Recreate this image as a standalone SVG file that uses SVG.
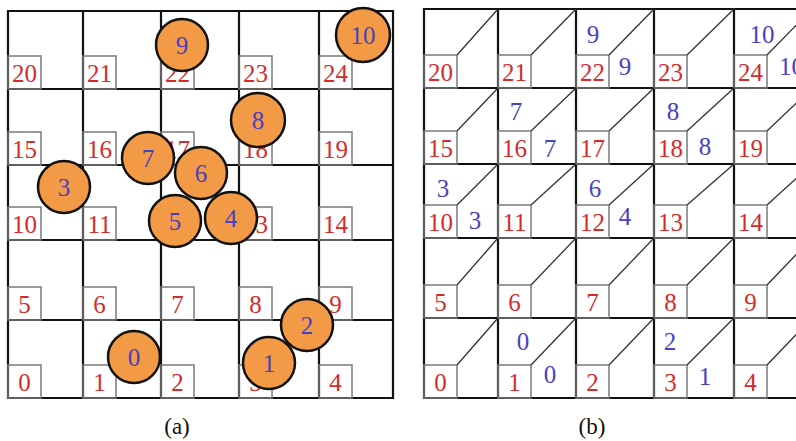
<svg xmlns="http://www.w3.org/2000/svg" width="796" height="441" viewBox="0 0 796 441">
<style>
.grid{fill:none;stroke:#111;stroke-width:2.2}
.box{fill:none;stroke:#7a7a7a;stroke-width:1.5}
.diag{stroke:#333;stroke-width:1.3}
.red{font-family:"Liberation Serif","Times New Roman","DejaVu Serif",serif;font-size:25px;fill:#d42b2b;text-anchor:middle}
.blue{font-family:"Liberation Serif","Times New Roman","DejaVu Serif",serif;font-size:25px;fill:#4a3fbf;text-anchor:middle}
.node circle{fill:#f29a45;stroke:#111;stroke-width:2.5}
.cap{font-family:"Liberation Serif","Times New Roman","DejaVu Serif",serif;font-size:23px;fill:#111;text-anchor:middle}
</style>
<rect width="796" height="441" fill="#fff"/>
<!-- (a) grid -->
<g id="gridA">
<path class="grid" d="M8 11H393V398H8Z M83 11V398 M161 11V398 M239 11V398 M319 11V398 M8 89H393 M8 165H393 M8 240H393 M8 320H393"/>
</g>
<g id="cellsA">
<g id="a20"><rect class="box" x="8" y="56" width="33" height="33"/><text class="red" x="24.5" y="82">20</text></g>
<g id="a21"><rect class="box" x="83" y="56" width="33" height="33"/><text class="red" x="99.5" y="82">21</text></g>
<g id="a22"><rect class="box" x="161" y="56" width="33" height="33"/><text class="red" x="177.5" y="82">22</text></g>
<g id="a23"><rect class="box" x="239" y="56" width="33" height="33"/><text class="red" x="255.5" y="82">23</text></g>
<g id="a24"><rect class="box" x="319" y="56" width="33" height="33"/><text class="red" x="335.5" y="82">24</text></g>
<g id="a15"><rect class="box" x="8" y="132" width="33" height="33"/><text class="red" x="24.5" y="158">15</text></g>
<g id="a16"><rect class="box" x="83" y="132" width="33" height="33"/><text class="red" x="99.5" y="158">16</text></g>
<g id="a17"><rect class="box" x="161" y="132" width="33" height="33"/><text class="red" x="177.5" y="158">17</text></g>
<g id="a18"><rect class="box" x="239" y="132" width="33" height="33"/><text class="red" x="255.5" y="158">18</text></g>
<g id="a19"><rect class="box" x="319" y="132" width="33" height="33"/><text class="red" x="335.5" y="158">19</text></g>
<g id="a10"><rect class="box" x="8" y="207" width="33" height="33"/><text class="red" x="24.5" y="233">10</text></g>
<g id="a11"><rect class="box" x="83" y="207" width="33" height="33"/><text class="red" x="99.5" y="233">11</text></g>
<g id="a12"><rect class="box" x="161" y="207" width="33" height="33"/></g>
<g id="a13"><rect class="box" x="239" y="207" width="33" height="33"/><text class="red" x="255.5" y="233">13</text></g>
<g id="a14"><rect class="box" x="319" y="207" width="33" height="33"/><text class="red" x="335.5" y="233">14</text></g>
<g id="a5"><rect class="box" x="8" y="287" width="33" height="33"/><text class="red" x="24.5" y="313">5</text></g>
<g id="a6"><rect class="box" x="83" y="287" width="33" height="33"/><text class="red" x="99.5" y="313">6</text></g>
<g id="a7"><rect class="box" x="161" y="287" width="33" height="33"/><text class="red" x="177.5" y="313">7</text></g>
<g id="a8"><rect class="box" x="239" y="287" width="33" height="33"/><text class="red" x="255.5" y="313">8</text></g>
<g id="a9"><rect class="box" x="319" y="287" width="33" height="33"/><text class="red" x="335.5" y="313">9</text></g>
<g id="a0"><rect class="box" x="8" y="365" width="33" height="33"/><text class="red" x="24.5" y="391">0</text></g>
<g id="a1"><rect class="box" x="83" y="365" width="33" height="33"/><text class="red" x="99.5" y="391">1</text></g>
<g id="a2"><rect class="box" x="161" y="365" width="33" height="33"/><text class="red" x="177.5" y="391">2</text></g>
<g id="a3"><rect class="box" x="239" y="365" width="33" height="33"/><text class="red" x="255.5" y="391">3</text></g>
<g id="a4"><rect class="box" x="319" y="365" width="33" height="33"/><text class="red" x="335.5" y="391">4</text></g>
</g>
<g id="connectors"></g>
<g id="nodesA">
<g id="n0" class="node"><circle cx="134" cy="357" r="26"/><text class="blue" x="134" y="366">0</text></g>
<g id="n1" class="node"><circle cx="269" cy="363" r="26"/><text class="blue" x="269" y="372">1</text></g>
<g id="n2" class="node"><circle cx="307" cy="325" r="26"/><text class="blue" x="307" y="334">2</text></g>
<g id="n3" class="node"><circle cx="64" cy="187" r="26"/><text class="blue" x="64" y="196">3</text></g>
<g id="n5" class="node"><circle cx="175" cy="221" r="26"/><text class="blue" x="175" y="230">5</text></g>
<g id="n4" class="node"><circle cx="231" cy="218" r="26"/><text class="blue" x="231" y="227">4</text></g>
<g id="n7" class="node"><circle cx="148" cy="158" r="26"/><text class="blue" x="148" y="167">7</text></g>
<g id="n6" class="node"><circle cx="201" cy="173" r="26"/><text class="blue" x="201" y="182">6</text></g>
<g id="n8" class="node"><circle cx="258" cy="120" r="27"/><text class="blue" x="258" y="129">8</text></g>
<g id="n9" class="node"><circle cx="182" cy="45" r="26"/><text class="blue" x="182" y="54">9</text></g>
<g id="n10" class="node"><circle cx="363" cy="35" r="27"/><text class="blue" x="363" y="44">10</text></g>
</g>
<!-- (b) grid -->
<g id="gridB">
<path class="grid" d="M812 9H424V398H812 M498 9V398 M576 9V398 M654 9V398 M734 9V398 M424 88H812 M424 164H812 M424 238H812 M424 318H812"/>
</g>
<g id="cellsB">
<g id="b20"><rect class="box" x="424" y="55" width="33" height="33"/><line class="diag" x1="457" y1="55" x2="498" y2="9"/><text class="red" x="440.5" y="81">20</text></g>
<g id="b21"><rect class="box" x="498" y="55" width="33" height="33"/><line class="diag" x1="531" y1="55" x2="576" y2="9"/><text class="red" x="514.5" y="81">21</text></g>
<g id="b22"><rect class="box" x="576" y="55" width="33" height="33"/><line class="diag" x1="609" y1="55" x2="654" y2="9"/><text class="red" x="592.5" y="81">22</text><text class="blue" x="593" y="43">9</text><text class="blue" x="625" y="75">9</text></g>
<g id="b23"><rect class="box" x="654" y="55" width="33" height="33"/><line class="diag" x1="687" y1="55" x2="734" y2="9"/><text class="red" x="670.5" y="81">23</text></g>
<g id="b24"><rect class="box" x="734" y="55" width="33" height="33"/><line class="diag" x1="767" y1="55" x2="812" y2="9"/><text class="red" x="750.5" y="81">24</text><text class="blue" x="762" y="43">10</text><text class="blue" x="779" y="75" style="text-anchor:start">10</text></g>
<g id="b15"><rect class="box" x="424" y="131" width="33" height="33"/><line class="diag" x1="457" y1="131" x2="498" y2="88"/><text class="red" x="440.5" y="157">15</text></g>
<g id="b16"><rect class="box" x="498" y="131" width="33" height="33"/><line class="diag" x1="531" y1="131" x2="576" y2="88"/><text class="red" x="514.5" y="157">16</text><text class="blue" x="516" y="120">7</text><text class="blue" x="550" y="157">7</text></g>
<g id="b17"><rect class="box" x="576" y="131" width="33" height="33"/><line class="diag" x1="609" y1="131" x2="654" y2="88"/><text class="red" x="592.5" y="157">17</text></g>
<g id="b18"><rect class="box" x="654" y="131" width="33" height="33"/><line class="diag" x1="687" y1="131" x2="734" y2="88"/><text class="red" x="670.5" y="157">18</text><text class="blue" x="673" y="120">8</text><text class="blue" x="705" y="155">8</text></g>
<g id="b19"><rect class="box" x="734" y="131" width="33" height="33"/><line class="diag" x1="767" y1="131" x2="812" y2="88"/><text class="red" x="750.5" y="157">19</text></g>
<g id="b10"><rect class="box" x="424" y="205" width="33" height="33"/><line class="diag" x1="457" y1="205" x2="498" y2="164"/><text class="red" x="440.5" y="231">10</text><text class="blue" x="443" y="197">3</text><text class="blue" x="475" y="229">3</text></g>
<g id="b11"><rect class="box" x="498" y="205" width="33" height="33"/><line class="diag" x1="531" y1="205" x2="576" y2="164"/><text class="red" x="514.5" y="231">11</text></g>
<g id="b12"><rect class="box" x="576" y="205" width="33" height="33"/><line class="diag" x1="609" y1="205" x2="654" y2="164"/><text class="red" x="592.5" y="231">12</text><text class="blue" x="595" y="197">6</text><text class="blue" x="625" y="225">4</text></g>
<g id="b13"><rect class="box" x="654" y="205" width="33" height="33"/><line class="diag" x1="687" y1="205" x2="734" y2="164"/><text class="red" x="670.5" y="231">13</text></g>
<g id="b14"><rect class="box" x="734" y="205" width="33" height="33"/><line class="diag" x1="767" y1="205" x2="812" y2="164"/><text class="red" x="750.5" y="231">14</text></g>
<g id="b5"><rect class="box" x="424" y="285" width="33" height="33"/><line class="diag" x1="457" y1="285" x2="498" y2="238"/><text class="red" x="440.5" y="311">5</text></g>
<g id="b6"><rect class="box" x="498" y="285" width="33" height="33"/><line class="diag" x1="531" y1="285" x2="576" y2="238"/><text class="red" x="514.5" y="311">6</text></g>
<g id="b7"><rect class="box" x="576" y="285" width="33" height="33"/><line class="diag" x1="609" y1="285" x2="654" y2="238"/><text class="red" x="592.5" y="311">7</text></g>
<g id="b8"><rect class="box" x="654" y="285" width="33" height="33"/><line class="diag" x1="687" y1="285" x2="734" y2="238"/><text class="red" x="670.5" y="311">8</text></g>
<g id="b9"><rect class="box" x="734" y="285" width="33" height="33"/><line class="diag" x1="767" y1="285" x2="812" y2="238"/><text class="red" x="750.5" y="311">9</text></g>
<g id="b0"><rect class="box" x="424" y="365" width="33" height="33"/><line class="diag" x1="457" y1="365" x2="498" y2="318"/><text class="red" x="440.5" y="391">0</text></g>
<g id="b1"><rect class="box" x="498" y="365" width="33" height="33"/><line class="diag" x1="531" y1="365" x2="576" y2="318"/><text class="red" x="514.5" y="391">1</text><text class="blue" x="523" y="350">0</text><text class="blue" x="550" y="383">0</text></g>
<g id="b2"><rect class="box" x="576" y="365" width="33" height="33"/><line class="diag" x1="609" y1="365" x2="654" y2="318"/><text class="red" x="592.5" y="391">2</text></g>
<g id="b3"><rect class="box" x="654" y="365" width="33" height="33"/><line class="diag" x1="687" y1="365" x2="734" y2="318"/><text class="red" x="670.5" y="391">3</text><text class="blue" x="670" y="350">2</text><text class="blue" x="705" y="385">1</text></g>
<g id="b4"><rect class="box" x="734" y="365" width="33" height="33"/><line class="diag" x1="767" y1="365" x2="812" y2="318"/><text class="red" x="750.5" y="391">4</text></g>
</g>
<text class="cap" x="177" y="434">(a)</text>
<text class="cap" x="592" y="434">(b)</text>
</svg>
